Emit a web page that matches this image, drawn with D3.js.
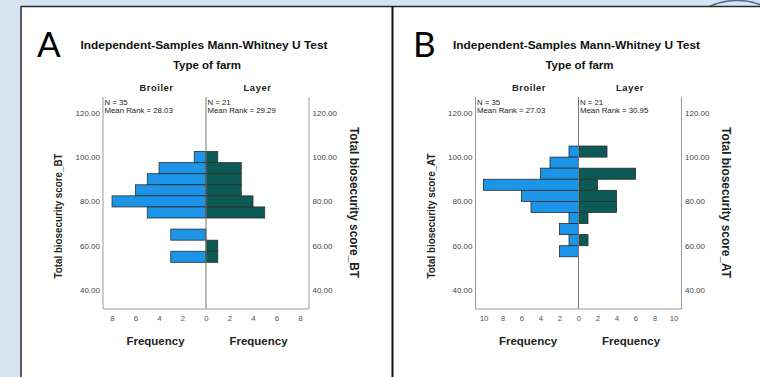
<!DOCTYPE html>
<html><head><meta charset="utf-8">
<script src="https://cdn.jsdelivr.net/npm/d3@7"></script>
<style>html,body{margin:0;padding:0;background:#d6e4f1;}svg{display:block;}</style>
</head><body>
<svg id="c" width="760" height="377"></svg>
<script>
// ---- data ----
const binWidth = 5;
const binStartA = [97.5, 92.5, 87.5, 82.5, 77.5, 72.5, 67.5, 62.5, 57.5, 52.5];
const broilerA  = [1, 4, 5, 6, 8, 5, 0, 3, 0, 3];
const layerA    = [1, 3, 3, 3, 4, 5, 0, 0, 1, 1];
const binStartB = [100, 95, 90, 85, 80, 75, 70, 65, 60, 55];
const broilerB  = [1, 3, 4, 10, 6, 5, 1, 2, 1, 2];
const layerB    = [3, 0, 6, 2, 4, 4, 1, 0, 1, 0];
const yTicks = [40, 60, 80, 100, 120];
const freqTicksA = [0, 2, 4, 6, 8];
const freqTicksB = [0, 2, 4, 6, 8, 10];
const groups = ["Broiler", "Layer"];
const nA = [35, 21], meanRankA = ["28.03", "29.29"];
const nB = [35, 21], meanRankB = ["27.03", "30.95"];
const varA = "Total biosecurity score_BT";
const varB = "Total biosecurity score_AT";
const titleText = "Independent-Samples Mann-Whitney U Test";
const factorText = "Type of farm";

const svg = d3.select("#c");
const FONT = "'Liberation Sans', Arial, sans-serif";
const C_BROILER = "#1c95e8", C_LAYER = "#0c5a55";

// decorative arc behind panels
svg.append("circle").attr("cx", 737).attr("cy", 64).attr("r", 63.5)
  .attr("fill", "none").attr("stroke", "#4d6a98").attr("stroke-width", 1.6);
// white sheet
svg.append("rect").attr("x", 21).attr("y", 6).attr("width", 739).attr("height", 371).attr("fill", "#fff");
svg.append("line").attr("x1", 21).attr("x2", 760).attr("y1", 6.5).attr("y2", 6.5).attr("stroke", "#2a2a2a").attr("stroke-width", 1.5);
svg.append("line").attr("x1", 21).attr("x2", 21).attr("y1", 6).attr("y2", 377).attr("stroke", "#2a2a2a").attr("stroke-width", 1.5);
svg.append("line").attr("x1", 392.5).attr("x2", 392.5).attr("y1", 6).attr("y2", 377).attr("stroke", "#111").attr("stroke-width", 2);

function panel(o) {
  const g = svg.append("g");
  const top = 97, bottom = 309;
  const cx = (o.left + o.right) / 2;
  const y = d3.scaleLinear().domain([40, 120]).range([290, 112.8]);
  const xL = d3.scaleLinear().domain([0, o.maxF]).range([cx, o.left]);
  const xR = d3.scaleLinear().domain([0, o.maxF]).range([cx, o.right]);

  // letter
  g.append("text").attr("x", o.letterX).attr("y", 57).text(o.letter)
    .attr("font-family", "Lato, 'Open Sans', sans-serif").attr("font-size", 35).attr("fill", "#000");
  // titles
  g.append("text").attr("x", cx - 2).attr("y", 49).attr("text-anchor", "middle").text(titleText)
    .attr("font-family", FONT).attr("font-weight", "bold").attr("font-size", 11).attr("fill", "#111")
    .attr("textLength", 247).attr("lengthAdjust", "spacingAndGlyphs");
  g.append("text").attr("x", cx + 1).attr("y", 69).attr("text-anchor", "middle").text(factorText)
    .attr("font-family", FONT).attr("font-weight", "bold").attr("font-size", 11.5).attr("fill", "#111");
  [0, 1].forEach(i => {
    g.append("text").attr("x", i ? (cx + o.right) / 2 : (o.left + cx) / 2 + 2).attr("y", 90.5)
      .attr("text-anchor", "middle").text(groups[i])
      .attr("font-family", FONT).attr("font-weight", "bold").attr("font-size", 9.3).attr("fill", "#222")
      .attr("letter-spacing", 0.6);
    const x0 = (i ? cx : o.left) + 1.5;
    g.append("text").attr("x", x0).attr("y", 105).text("N = " + o.n[i])
      .attr("font-family", FONT).attr("font-size", 7.8).attr("fill", "#222");
    g.append("text").attr("x", x0).attr("y", 113).text("Mean Rank = " + o.mr[i])
      .attr("font-family", FONT).attr("font-size", 7.8).attr("fill", "#222");
  });

  // bars
  const bl = o.bins.map((b, i) => ({b, v: o.broiler[i]})).filter(d => d.v > 0);
  const ly = o.bins.map((b, i) => ({b, v: o.layer[i]})).filter(d => d.v > 0);
  g.selectAll(".bl").data(bl).join("rect")
    .attr("x", d => xL(d.v)).attr("width", d => xL(0) - xL(d.v))
    .attr("y", d => y(d.b + binWidth)).attr("height", d => y(d.b) - y(d.b + binWidth))
    .attr("fill", C_BROILER).attr("stroke", "#2b2b2b").attr("stroke-width", 0.8);
  g.selectAll(".ly").data(ly).join("rect")
    .attr("x", xR(0)).attr("width", d => xR(d.v) - xR(0))
    .attr("y", d => y(d.b + binWidth)).attr("height", d => y(d.b) - y(d.b + binWidth))
    .attr("fill", C_LAYER).attr("stroke", "#2b2b2b").attr("stroke-width", 0.8);

  // frame
  g.append("line").attr("x1", o.left).attr("x2", o.left).attr("y1", top).attr("y2", bottom).attr("stroke", "#9a9a9a");
  g.append("line").attr("x1", o.right).attr("x2", o.right).attr("y1", top).attr("y2", bottom).attr("stroke", "#9a9a9a");
  g.append("line").attr("x1", cx).attr("x2", cx).attr("y1", top).attr("y2", bottom).attr("stroke", "#777");
  g.append("line").attr("x1", o.left).attr("x2", o.right).attr("y1", bottom).attr("y2", bottom).attr("stroke", "#9a9a9a");

  // y axes
  const fmt = d3.format(".2f");
  const ya = g.append("g").attr("transform", `translate(${o.left - 3},0)`)
    .call(d3.axisLeft(y).tickValues(yTicks).tickFormat(fmt).tickSize(0).tickPadding(0));
  const yb = g.append("g").attr("transform", `translate(${o.right + 3.5},0)`)
    .call(d3.axisRight(y).tickValues(yTicks).tickFormat(fmt).tickSize(0).tickPadding(0));
  [ya, yb].forEach(a => {
    a.select(".domain").remove();
    a.selectAll("text").attr("font-family", FONT).attr("font-size", 8).attr("fill", "#444");
  });
  // x axes
  const xa = g.append("g").attr("transform", `translate(0,${bottom + 6.5})`)
    .call(d3.axisBottom(xL).tickValues(o.fticks).tickSize(0).tickPadding(0));
  const xb = g.append("g").attr("transform", `translate(0,${bottom + 6.5})`)
    .call(d3.axisBottom(xR).tickValues(o.fticks.filter(t => t > 0)).tickSize(0).tickPadding(0));
  [xa, xb].forEach(a => {
    a.select(".domain").remove();
    a.selectAll("text").attr("font-family", FONT).attr("font-size", 7.8).attr("fill", "#555");
  });
  // axis titles
  [0, 1].forEach(i => {
    g.append("text").attr("x", i ? (cx + o.right) / 2 + 1 : (o.left + cx) / 2 + 1).attr("y", 345)
      .attr("text-anchor", "middle").text("Frequency")
      .attr("font-family", FONT).attr("font-weight", "bold").attr("font-size", 11.5).attr("fill", "#222");
  });
  g.append("text").attr("transform", `translate(${o.left - 45},216) rotate(-90)`)
    .attr("text-anchor", "middle").attr("dominant-baseline", "central").text(o.varName)
    .attr("font-family", FONT).attr("font-weight", "bold").attr("font-size", 10.5).attr("fill", "#222")
    .attr("textLength", 125).attr("lengthAdjust", "spacingAndGlyphs");
  g.append("text").attr("transform", `translate(${o.right + 44.5},202.5) rotate(90)`)
    .attr("text-anchor", "middle").attr("dominant-baseline", "central").text(o.varName)
    .attr("font-family", FONT).attr("font-weight", "bold").attr("font-size", 12).attr("fill", "#222")
    .attr("textLength", 151).attr("lengthAdjust", "spacingAndGlyphs");
}

panel({letter: "A", letterX: 37, left: 103, right: 309, maxF: 8.77, fticks: freqTicksA,
  bins: binStartA, broiler: broilerA, layer: layerA, n: nA, mr: meanRankA, varName: varA});
panel({letter: "B", letterX: 413, left: 475.5, right: 681.5, maxF: 10.84, fticks: freqTicksB,
  bins: binStartB, broiler: broilerB, layer: layerB, n: nB, mr: meanRankB, varName: varB});
</script>
</body></html>
